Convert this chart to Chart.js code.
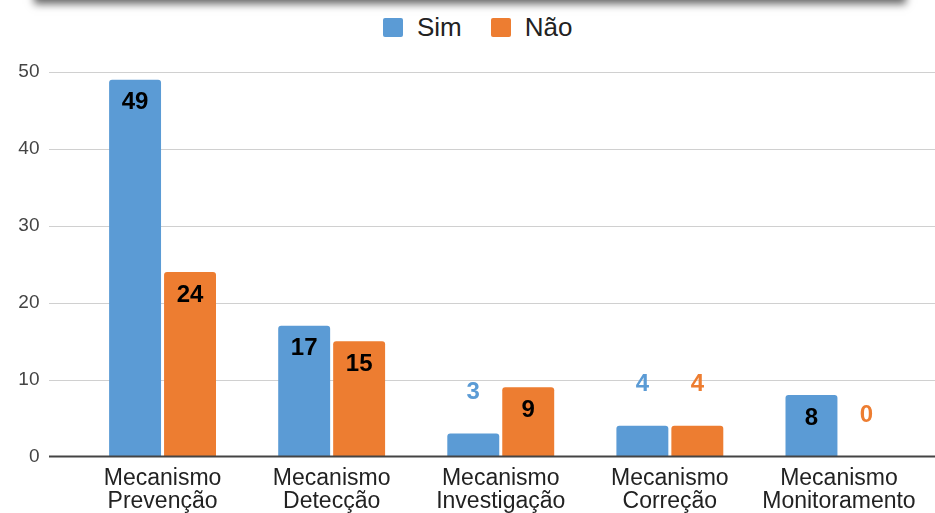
<!DOCTYPE html>
<html lang="pt">
<head>
<meta charset="utf-8">
<title>Mecanismos</title>
<script src="https://cdn.jsdelivr.net/npm/chart.js@4.4.1/dist/chart.umd.min.js"></script>
<style>
  html, body { margin:0; padding:0; background:#fff; }
  body { width:935px; height:513px; position:relative; overflow:hidden; font-family:"Liberation Sans", Arial, sans-serif; }
  .card-edge { position:absolute; left:34px; top:-40px; width:872px; height:40px; background:#fff; box-shadow:0 4px 8px rgba(0,0,0,.6); }
  #legend { position:absolute; left:383px; top:14px; display:flex; align-items:center; font-size:26px; line-height:26px; color:#222; }
  #legend .item { display:flex; align-items:center; margin-right:29px; }
  #legend .box { width:20px; height:19px; border-radius:2px; margin-right:14px; }
  canvas { position:absolute; left:0; top:0; }
</style>
</head>
<body>
<div class="card-edge"></div>
<div id="legend"></div>
<canvas id="mecChart" width="935" height="513"></canvas>
<script>
'use strict';
// ── Mecanismos: Sim / Não ───────────────────────────────

const categories = [
  ['Mecanismo', 'Prevenção'],
  ['Mecanismo', 'Detecção'],
  ['Mecanismo', 'Investigação'],
  ['Mecanismo', 'Correção'],
  ['Mecanismo', 'Monitoramento'],
];
const simValues = [49, 17, 3, 4, 8];
const naoValues = [24, 15, 9, 4, 0];
const yTicks    = [0, 10, 20, 30, 40, 50];

const BLUE   = '#5b9bd5';
const ORANGE = '#ed7d31';
const FONT   = '"Liberation Sans", Arial, sans-serif';

// ── Horizontal rules, drawn across the full width ───────
const fullGrid = {
  id: 'fullGrid',
  beforeDatasetsDraw(chart) {
    const { ctx, scales: { y } } = chart;
    ctx.save();
    ctx.strokeStyle = '#d0d0d0';
    ctx.lineWidth = 1;
    y.ticks.forEach(t => {
      if (t.value === 0) return;
      const py = Math.round(y.getPixelForValue(t.value)) + 0.5;
      ctx.beginPath();
      ctx.moveTo(49, py);
      ctx.lineTo(chart.width, py);
      ctx.stroke();
    });
    ctx.restore();
  },
  afterDatasetsDraw(chart) {
    const { ctx, scales: { y } } = chart;
    const py = y.getPixelForValue(0);
    ctx.save();
    ctx.strokeStyle = '#444';
    ctx.lineWidth = 2;
    ctx.beginPath();
    ctx.moveTo(49, py);
    ctx.lineTo(chart.width, py);
    ctx.stroke();
    ctx.restore();
  },
};

// ── Value labels: inside tall bars, above short ones ────
const valueLabels = {
  id: 'valueLabels',
  afterDatasetsDraw(chart) {
    const { ctx } = chart;
    ctx.save();
    ctx.font = `bold 24px ${FONT}`;
    ctx.textAlign = 'center';
    ctx.textBaseline = 'middle';
    chart.data.datasets.forEach((ds, di) => {
      chart.getDatasetMeta(di).data.forEach((bar, i) => {
        const inside = bar.base - bar.y > 45;
        ctx.fillStyle = inside ? '#000' : ds.backgroundColor;
        ctx.fillText(String(ds.data[i]), bar.x, inside ? bar.y + 23 : bar.y - 41.5);
      });
    });
    ctx.restore();
  },
};

const chart = new Chart(document.getElementById('mecChart'), {
  type: 'bar',
  data: {
    labels: categories,
    datasets: [
      { label: 'Sim', data: simValues, backgroundColor: BLUE },
      { label: 'Não', data: naoValues, backgroundColor: ORANGE },
    ],
  },
  options: {
    responsive: false,
    animation: false,
    layout: { padding: { top: 72, right: 11.5, left: 0, bottom: 0 } },
    datasets: {
      bar: {
        categoryPercentage: 0.65,
        barPercentage: 0.945,
        borderRadius: { topLeft: 3, topRight: 3 },
        borderSkipped: 'start',
      },
    },
    plugins: {
      legend: { display: false },
      tooltip: { enabled: false },
    },
    scales: {
      x: {
        grid: { display: false, drawTicks: false },
        border: { display: false },
        afterFit: s => { s.height = 56.5; },
        ticks: {
          autoSkip: false, maxRotation: 0, padding: 11, color: '#222',
          font: { family: FONT, size: 23, lineHeight: 1 },
        },
      },
      y: {
        min: 0, max: 50,
        grid: { display: false, drawTicks: false },
        border: { display: false },
        afterBuildTicks: s => { s.ticks = yTicks.map(v => ({ value: v })); },
        afterFit: s => { s.width = 78; },
        ticks: { padding: 38.5, color: '#444', font: { family: FONT, size: 19 } },
      },
    },
  },
  plugins: [fullGrid, valueLabels],
});

// ── Legend ──────────────────────────────────────────────
document.getElementById('legend').innerHTML = chart.data.datasets.map(ds => `
  <div class="item"><span class="box" style="background:${ds.backgroundColor}"></span>${ds.label}</div>`).join('');
</script>
</body>
</html>
